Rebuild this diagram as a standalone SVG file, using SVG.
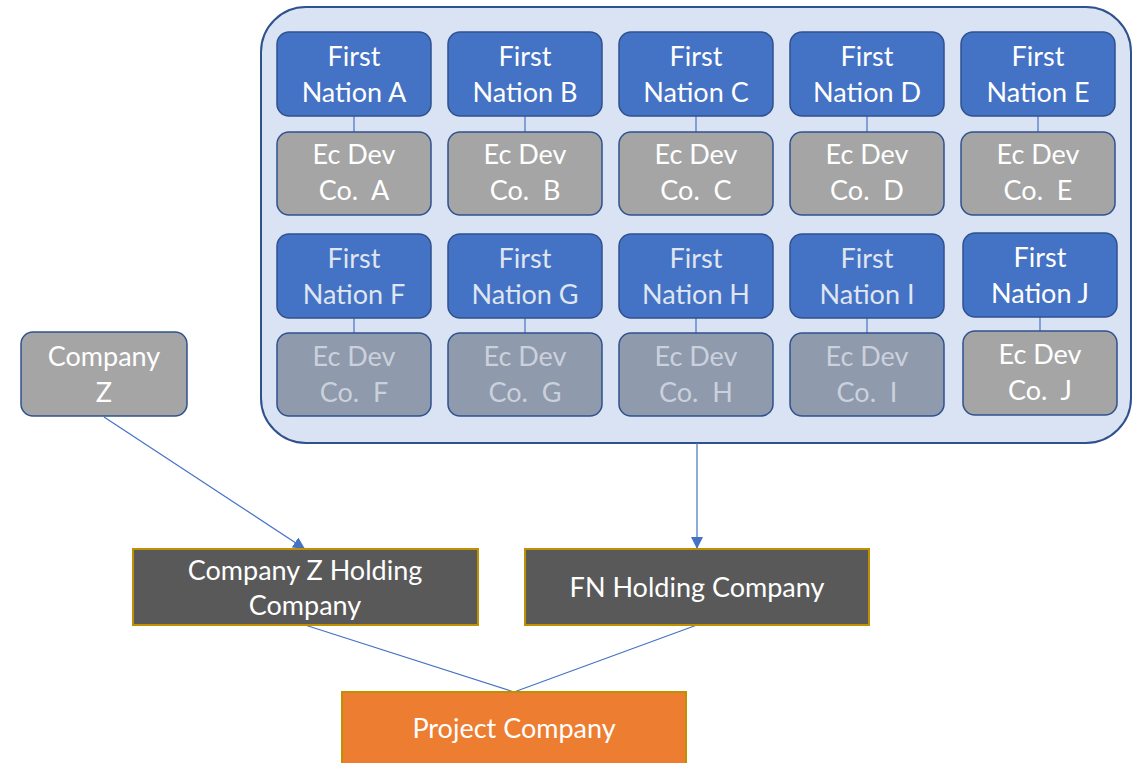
<svg xmlns="http://www.w3.org/2000/svg" width="1135" height="763" viewBox="0 0 1135 763">
  <defs>
    <style>
      text { font-family: Lato, "Open Sans", "Liberation Sans", sans-serif; font-size: 27px; fill: #ffffff; text-anchor: middle; white-space: pre; }
      .fn { fill: #4472c4; stroke: #2f528f; stroke-width: 1.5; }
      .ec { fill: #a5a5a5; stroke: #2f528f; stroke-width: 1.5; }
      .ecf { fill: #8f9aac; stroke: #2f528f; stroke-width: 1.5; }
      .dim { fill: #dfe5f1; }
      .dimgray { fill: #cbd1dc; }
      .hold { fill: #595959; stroke: #bf9000; stroke-width: 2; }
      .proj { fill: #ed7d31; stroke: #bf9000; stroke-width: 2; }
      .link { stroke: #4472c4; stroke-width: 1.2; fill: none; }
    </style>
    <marker id="arrow" viewBox="0 0 10 10" refX="10" refY="5" markerWidth="12" markerHeight="12" markerUnits="userSpaceOnUse" orient="auto">
      <path d="M0,0 L10,5 L0,10 Z" fill="#4472c4"/>
    </marker>
  </defs>

  <!-- grouping frame around the First Nations and their development companies -->
  <g id="fn-group">
    <rect x="261" y="7" width="870" height="436" rx="45" fill="#dae3f3" stroke="#2f528f" stroke-width="2"/>
  </g>

  <!-- connectors -->
  <g id="connectors">
    <!-- nation to ec dev company ties -->
    <line class="link" x1="354" y1="116" x2="354" y2="132"/>
    <line class="link" x1="525" y1="116" x2="525" y2="132"/>
    <line class="link" x1="696" y1="116" x2="696" y2="132"/>
    <line class="link" x1="867" y1="116" x2="867" y2="132"/>
    <line class="link" x1="1038" y1="116" x2="1038" y2="132"/>
    <line class="link" x1="354" y1="318" x2="354" y2="333"/>
    <line class="link" x1="525" y1="318" x2="525" y2="333"/>
    <line class="link" x1="696" y1="318" x2="696" y2="333"/>
    <line class="link" x1="867" y1="318" x2="867" y2="333"/>
    <line class="link" x1="1040" y1="317" x2="1040" y2="331"/>
    <!-- ownership flows -->
    <line class="link" x1="104" y1="417" x2="305" y2="549" marker-end="url(#arrow)"/>
    <line class="link" x1="697" y1="443" x2="697" y2="549" marker-end="url(#arrow)"/>
    <line class="link" x1="305" y1="625" x2="514" y2="692"/>
    <line class="link" x1="697" y1="625" x2="514" y2="692"/>
  </g>

  <!-- row 1 -->
  <g id="fn-a"><rect class="fn" x="277" y="32" width="154" height="84" rx="12"/><text x="354" y="66">First</text><text x="354" y="102">Nation A</text></g>
  <g id="ec-a"><rect class="ec" x="277" y="132" width="154" height="83" rx="12"/><text x="354" y="164">Ec Dev</text><text x="354" y="200">Co.  A</text></g>
  <g id="fn-b"><rect class="fn" x="448" y="32" width="154" height="84" rx="12"/><text x="525" y="66">First</text><text x="525" y="102">Nation B</text></g>
  <g id="ec-b"><rect class="ec" x="448" y="132" width="154" height="83" rx="12"/><text x="525" y="164">Ec Dev</text><text x="525" y="200">Co.  B</text></g>
  <g id="fn-c"><rect class="fn" x="619" y="32" width="154" height="84" rx="12"/><text x="696" y="66">First</text><text x="696" y="102">Nation C</text></g>
  <g id="ec-c"><rect class="ec" x="619" y="132" width="154" height="83" rx="12"/><text x="696" y="164">Ec Dev</text><text x="696" y="200">Co.  C</text></g>
  <g id="fn-d"><rect class="fn" x="790" y="32" width="154" height="84" rx="12"/><text x="867" y="66">First</text><text x="867" y="102">Nation D</text></g>
  <g id="ec-d"><rect class="ec" x="790" y="132" width="154" height="83" rx="12"/><text x="867" y="164">Ec Dev</text><text x="867" y="200">Co.  D</text></g>
  <g id="fn-e"><rect class="fn" x="961" y="32" width="154" height="84" rx="12"/><text x="1038" y="66">First</text><text x="1038" y="102">Nation E</text></g>
  <g id="ec-e"><rect class="ec" x="961" y="132" width="154" height="83" rx="12"/><text x="1038" y="164">Ec Dev</text><text x="1038" y="200">Co.  E</text></g>

  <!-- row 2 -->
  <g id="fn-f"><rect class="fn" x="277" y="234" width="154" height="84" rx="12"/><text class="dim" x="354" y="268">First</text><text class="dim" x="354" y="304">Nation F</text></g>
  <g id="ec-f"><rect class="ecf" x="277" y="333" width="154" height="83" rx="12"/><text class="dimgray" x="354" y="366">Ec Dev</text><text class="dimgray" x="354" y="402">Co.  F</text></g>
  <g id="fn-g"><rect class="fn" x="448" y="234" width="154" height="84" rx="12"/><text class="dim" x="525" y="268">First</text><text class="dim" x="525" y="304">Nation G</text></g>
  <g id="ec-g"><rect class="ecf" x="448" y="333" width="154" height="83" rx="12"/><text class="dimgray" x="525" y="366">Ec Dev</text><text class="dimgray" x="525" y="402">Co.  G</text></g>
  <g id="fn-h"><rect class="fn" x="619" y="234" width="154" height="84" rx="12"/><text class="dim" x="696" y="268">First</text><text class="dim" x="696" y="304">Nation H</text></g>
  <g id="ec-h"><rect class="ecf" x="619" y="333" width="154" height="83" rx="12"/><text class="dimgray" x="696" y="366">Ec Dev</text><text class="dimgray" x="696" y="402">Co.  H</text></g>
  <g id="fn-i"><rect class="fn" x="790" y="234" width="154" height="84" rx="12"/><text class="dim" x="867" y="268">First</text><text class="dim" x="867" y="304">Nation I</text></g>
  <g id="ec-i"><rect class="ecf" x="790" y="333" width="154" height="83" rx="12"/><text class="dimgray" x="867" y="366">Ec Dev</text><text class="dimgray" x="867" y="402">Co.  I</text></g>
  <g id="fn-j"><rect class="fn" x="963" y="233" width="154" height="84" rx="12"/><text x="1040" y="267">First</text><text x="1040" y="303">Nation J</text></g>
  <g id="ec-j"><rect class="ec" x="963" y="331" width="154" height="84" rx="12"/><text x="1040" y="364">Ec Dev</text><text x="1040" y="400">Co.  J</text></g>

  <!-- outside partner -->
  <g id="company-z"><rect class="ec" x="21" y="332" width="166" height="84" rx="12"/><text x="104" y="366">Company</text><text x="104" y="402">Z</text></g>

  <!-- holding companies -->
  <g id="company-z-holding"><rect class="hold" x="133" y="549" width="345" height="76"/><text x="305" y="580">Company Z Holding</text><text x="305" y="615">Company</text></g>
  <g id="fn-holding"><rect class="hold" x="525" y="549" width="344" height="76"/><text x="697" y="597">FN Holding Company</text></g>

  <!-- project entity -->
  <g id="project-company"><rect class="proj" x="342" y="692" width="344" height="80"/><text x="514" y="738">Project Company</text></g>
</svg>
